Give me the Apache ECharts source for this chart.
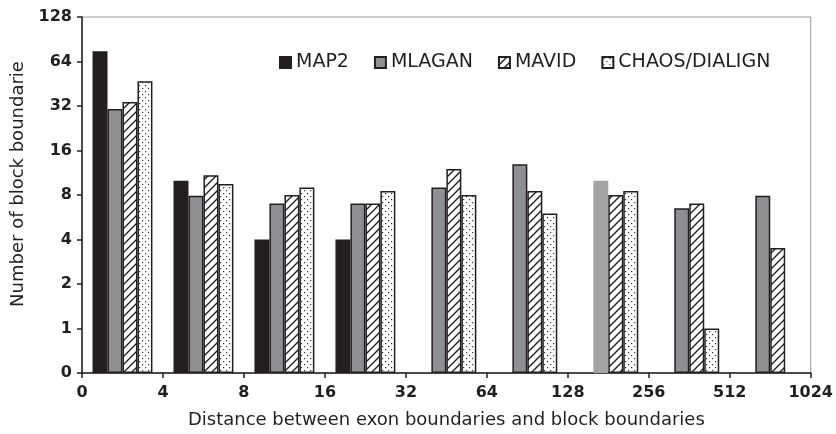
<!DOCTYPE html>
<html>
<head>
<meta charset="utf-8">
<script src="https://cdn.jsdelivr.net/npm/echarts@6/dist/echarts.min.js"></script>
<style>
  html, body { margin: 0; padding: 0; background: #fff; }
  #chart { width: 836px; height: 434px; }
</style>
</head>
<body>
<div id="chart"></div>
<script>
  // groups between the x tick labels
  var groups = ['0-4', '4-8', '8-16', '16-32', '32-64', '64-128', '128-256', '256-512', '512-1024'];
  var xTickLabels = ['0', '4', '8', '16', '32', '64', '128', '256', '512', '1024'];
  var yTickLabels = ['0', '1', '2', '4', '8', '16', '32', '64', '128'];

  // number of block boundaries (null = no bar)
  var map2 = [75, 10, 4, 4, null, null, null, null, null];
  var mlagan = [30.5, 7.9, 7, 7, 9, 12.9, 10, 6.5, 7.9];
  var mavid = [34, 10.9, 8, 7, 12, 8.5, 8, 7, 3.5];
  var chaos = [47, 9.5, 9, 8.5, 8, 6, 8.5, 1, null];

  // y axis is log2 with the bottom step labelled "0": step k shows 2^(k-1)
  function toSteps(arr) {
    return arr.map(function (v) {
      return v == null ? null : Math.log(v) / Math.LN2 + 1;
    });
  }

  function hatchPattern() {
    var c = document.createElement('canvas');
    c.width = 8; c.height = 8;
    var g = c.getContext('2d');
    g.fillStyle = '#fff';
    g.fillRect(0, 0, 8, 8);
    g.strokeStyle = '#231f20';
    g.lineWidth = 1.4;
    g.beginPath();
    g.moveTo(0, 8); g.lineTo(8, 0);
    g.moveTo(-2, 2); g.lineTo(2, -2);
    g.moveTo(6, 10); g.lineTo(10, 6);
    g.stroke();
    return c;
  }

  function dotPattern() {
    var c = document.createElement('canvas');
    c.width = 6; c.height = 6;
    var g = c.getContext('2d');
    g.fillStyle = '#fff';
    g.fillRect(0, 0, 6, 6);
    g.fillStyle = '#333';
    g.fillRect(1, 1, 1.2, 1.2);
    g.fillRect(4, 4, 1.2, 1.2);
    return c;
  }

  var mlaganData = toSteps(mlagan);
  // the 128-256 MLAGAN bar is printed lighter, without outline
  mlaganData[6] = { value: mlaganData[6], itemStyle: { color: '#a2a3a5', borderWidth: 0 } };

  var border = { borderColor: '#231f20', borderWidth: 1.5 };
  var myChart = echarts.init(document.getElementById('chart'));
  myChart.setOption({
    animation: false,
    textStyle: { fontFamily: 'DejaVu Sans' },
    legend: {
      left: 274,
      top: 48,
      icon: 'rect',
      itemWidth: 11,
      itemHeight: 11,
      itemGap: 25,
      textStyle: { fontSize: 19, color: '#231f20', fontFamily: 'DejaVu Sans' }
    },
    grid: {
      left: 82,
      right: 21,
      top: 17,
      bottom: 56,
      show: true,
      borderColor: '#999',
      borderWidth: 1
    },
    xAxis: [{
      type: 'category',
      data: groups,
      axisLine: { show: false },
      axisTick: { show: false },
      axisLabel: { show: false }
    }, {
      type: 'value',
      position: 'bottom',
      min: 0,
      max: 9,
      interval: 1,
      name: 'Distance between exon boundaries and block boundaries',
      nameLocation: 'middle',
      nameGap: 38,
      nameTextStyle: { fontSize: 18, color: '#231f20' },
      axisLine: { show: true, lineStyle: { color: '#231f20', width: 1.5 } },
      axisTick: { show: true, length: 5, lineStyle: { color: '#231f20', width: 1.5 } },
      splitLine: { show: false },
      axisLabel: {
        margin: 12,
        fontSize: 16,
        fontWeight: 'bold',
        color: '#231f20',
        formatter: function (v) { return xTickLabels[Math.round(v)]; }
      }
    }],
    yAxis: {
      type: 'value',
      min: 0,
      max: 8,
      interval: 1,
      name: 'Number of block boundarie',
      nameLocation: 'middle',
      nameGap: 48,
      nameTextStyle: { fontSize: 18, color: '#231f20', padding: [0, 0, 0, 22] },
      axisLine: { show: true, lineStyle: { color: '#231f20', width: 1.5 } },
      axisTick: { show: true, length: 5, lineStyle: { color: '#231f20', width: 1.5 } },
      splitLine: { show: false },
      axisLabel: {
        margin: 10,
        fontSize: 16,
        fontWeight: 'bold',
        color: '#231f20',
        formatter: function (v) { return yTickLabels[Math.round(v)]; }
      }
    },
    series: [{
      name: 'MAP2',
      type: 'bar',
      data: toSteps(map2),
      barGap: 0,
      barCategoryGap: '26%',
      itemStyle: Object.assign({ color: '#231f20' }, border)
    }, {
      name: 'MLAGAN',
      type: 'bar',
      data: mlaganData,
      barGap: 0,
      barCategoryGap: '26%',
      itemStyle: Object.assign({ color: '#8e8f92' }, border)
    }, {
      name: 'MAVID',
      type: 'bar',
      data: toSteps(mavid),
      barGap: 0,
      barCategoryGap: '26%',
      itemStyle: Object.assign({ color: { image: hatchPattern(), repeat: 'repeat' } }, border)
    }, {
      name: 'CHAOS/DIALIGN',
      type: 'bar',
      data: toSteps(chaos),
      barGap: 0,
      barCategoryGap: '26%',
      itemStyle: Object.assign({ color: { image: dotPattern(), repeat: 'repeat' } }, border)
    }]
  });
</script>
</body>
</html>
